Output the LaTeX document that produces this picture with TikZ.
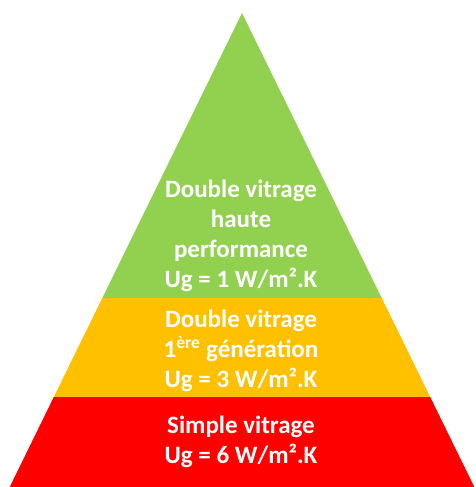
\documentclass[tikz,border=0pt]{standalone}
\usepackage{fontspec}
\setmainfont{Carlito}
\definecolor{tiergreen}{HTML}{92D050}
\definecolor{tieryellow}{HTML}{FFC000}
\definecolor{tierred}{HTML}{FF0000}
\tikzset{
  tierlabel/.style={text=white, align=center, inner sep=0pt,
    font=\fontsize{25}{30}\selectfont\bfseries},
}
\begin{document}
\begin{tikzpicture}[x=1pt,y=1pt]
  \useasboundingbox (0,0) rectangle (475,487);
  % pyramid outline, bands filled inside it
  \begin{scope}
    \clip (242,474) -- (9.7,0) -- (474.3,0) -- cycle;
    \fill[tierred]    (0,0)   rectangle (475,90);
    \fill[tieryellow] (0,90)  rectangle (475,189);
    \fill[tiergreen]  (0,189) rectangle (475,487);
  \end{scope}
  \node[tierlabel] (top) at (241,251)
    {Double vitrage\\haute\\performance\\Ug = 1 W/m².K};
  \node[tierlabel] (mid) at (241,136)
    {Double vitrage\\1\textsuperscript{ère} génération\\Ug = 3 W/m².K};
  \node[tierlabel] (base) at (241,45)
    {Simple vitrage\\Ug = 6 W/m².K};
\end{tikzpicture}
\end{document}
